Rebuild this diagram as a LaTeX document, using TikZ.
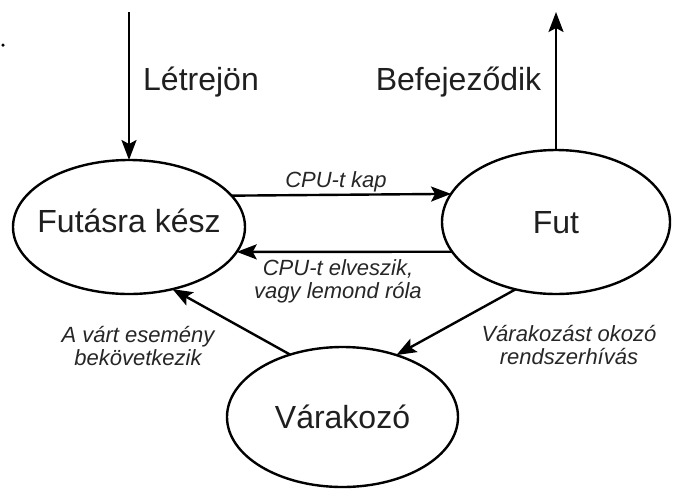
\documentclass[tikz,border=0pt]{standalone}
\usepackage{fontspec}
\setmainfont{Liberation Sans}
\usetikzlibrary{arrows.meta,shapes.geometric}
\tikzset{
  state/.style={draw, ellipse, line width=2.4pt, inner sep=0pt, outer sep=0pt},
  statetext/.style={font=\fontsize{32}{36}\selectfont, inner sep=0pt, text height=23pt, text depth=0pt, text=black!88},
  bigtext/.style={font=\fontsize{32}{36}\selectfont, inner sep=0pt, text height=23pt, text depth=0pt, text=black!88},
  smalltext/.style={font=\fontsize{22}{22.5}\selectfont\itshape, inner sep=0pt, align=center, anchor=base, text=black!85},
  conn/.style={line width=2.4pt, -{Stealth[length=20pt,width=15pt,inset=4pt]}}
}
\begin{document}
\begin{tikzpicture}[x=1pt,y=-1pt]
\useasboundingbox (0,0) rectangle (676,488);
% states
\node[state, minimum width=232pt, minimum height=134pt] (fk) at (129,227) {};
\node[state, minimum width=228pt, minimum height=144pt] (fut) at (556,222) {};
\node[state, minimum width=231pt, minimum height=140pt] (var) at (342.5,417) {};
\node[statetext] (fkt) at (129,221) {Futásra kész};
\node[statetext] (futt) at (556,222) {Fut};
\node[statetext] (vart) at (342.5,416.5) {Várakozó};
% stray dot
\node[circle, fill=black, inner sep=0pt, minimum size=3.5pt] (dot) at (3,45) {};
% entry / exit
\coordinate (in) at (129,12);
\coordinate (out) at (556,12);
\draw[conn] (in) -- (fk.north);
\draw[conn] (fut.north) -- (out);
\node[bigtext] (letre) at (201,78.5) {Létrejön};
\node[bigtext] (befej) at (458.5,78.5) {Befejeződik};
% transitions
\draw[conn] (fk.17.4) -- (fut.165.7);
\node[smalltext] (kap) at (336,187) {CPU-t kap};
\draw[conn] (fut.196.8) -- (fk.-13.7);
\node[smalltext] (elv) at (338,298) {CPU-t elveszik,\\vagy lemond róla};
\draw[conn] (var.130.3) -- (fk.-55.9);
\node[smalltext] (esem) at (138,365) {A várt esemény\\bekövetkezik};
\draw[conn] (fut.239.6) -- (var.49.6);
\node[smalltext] (rend) at (569,364) {Várakozást okozó\\rendszerhívás};
\end{tikzpicture}
\end{document}
